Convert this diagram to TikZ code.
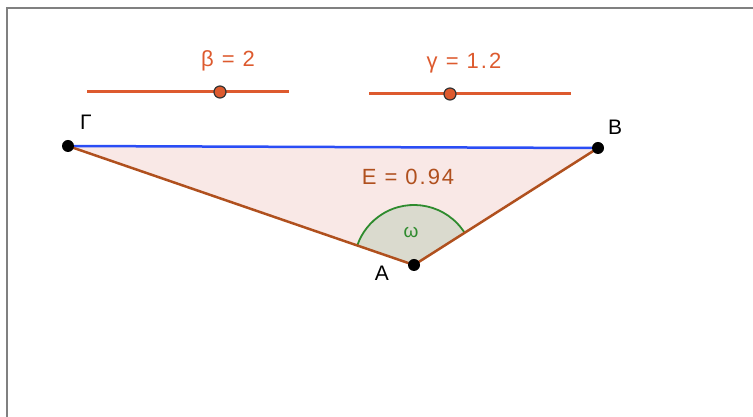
\documentclass[tikz,border=0pt]{standalone}
\usepackage{fontspec}
\setmainfont{Liberation Sans}
\usetikzlibrary{angles,calc}
\definecolor{slider}{HTML}{DD5A2E}
\definecolor{edge}{HTML}{B0501E}
\definecolor{areafill}{HTML}{F9E8E6}
\definecolor{sector}{HTML}{DADACE}
\definecolor{arcgreen}{HTML}{2E8B2E}
\definecolor{side}{HTML}{2A4DF5}
\definecolor{framegrey}{HTML}{808080}
\tikzset{
  vertex/.style={circle, fill=black, inner sep=0pt, minimum size=12pt},
  knob/.style={circle, fill=slider, draw=black!80, line width=1.2pt, inner sep=0pt, minimum size=12pt},
  sliderline/.style={slider, line width=3pt},
  biglabel/.style={font=\fontsize{22}{25}\selectfont\addfontfeature{LetterSpace=9}},
  sliderlabel/.style={text=slider, biglabel},
  ptlabel/.style={text=black, font=\fontsize{21}{24}\selectfont},
  sideline/.style={line width=2.5pt},
}
\begin{document}
\begin{tikzpicture}[x=1pt, y=1pt]
  \useasboundingbox (0,0) rectangle (753,417);
  % frame
  \draw[framegrey, line width=2pt] (7,0) -- (7,409) -- (753,409);

  % sliders
  \coordinate (b0) at (87,325);
  \coordinate (b1) at (289,325);
  \draw[sliderline] (b0) -- (b1);
  \node[knob] (bk) at (220,325) {};
  \node[sliderlabel] (bl) at (228,356) {β = 2};

  \coordinate (c0) at (369,323);
  \coordinate (c1) at (571,323);
  \draw[sliderline] (c0) -- (c1);
  \node[knob] (ck) at (450,323) {};
  \node[sliderlabel] (cl) at (464,354) {γ = 1.2};

  % triangle
  \coordinate (G) at (68,271);
  \coordinate (B) at (598,269);
  \coordinate (A) at (414,152);
  \fill[areafill] (G) -- (B) -- (A) -- cycle;
  \pic[draw=arcgreen, fill=sector, line width=1.8pt, angle radius=60pt] {angle=B--A--G};
  \draw[sideline, side] (G) -- (B);
  \draw[sideline, edge] (B) -- (A) -- (G);
  \node[vertex] (Gp) at (G) {};
  \node[vertex] (Bp) at (B) {};
  \node[vertex] (Ap) at (A) {};

  % labels
  \node[ptlabel] (Gl) at (86,295) {Γ};
  \node[ptlabel] (Bl) at (615,290) {B};
  \node[ptlabel] (Al) at (382,144) {A};
  \node[text=edge, biglabel] (E) at (408,240) {E = 0.94};
  \node[text=arcgreen, font=\fontsize{19}{22}\selectfont] (w) at (411,185) {ω};
\end{tikzpicture}
\end{document}
